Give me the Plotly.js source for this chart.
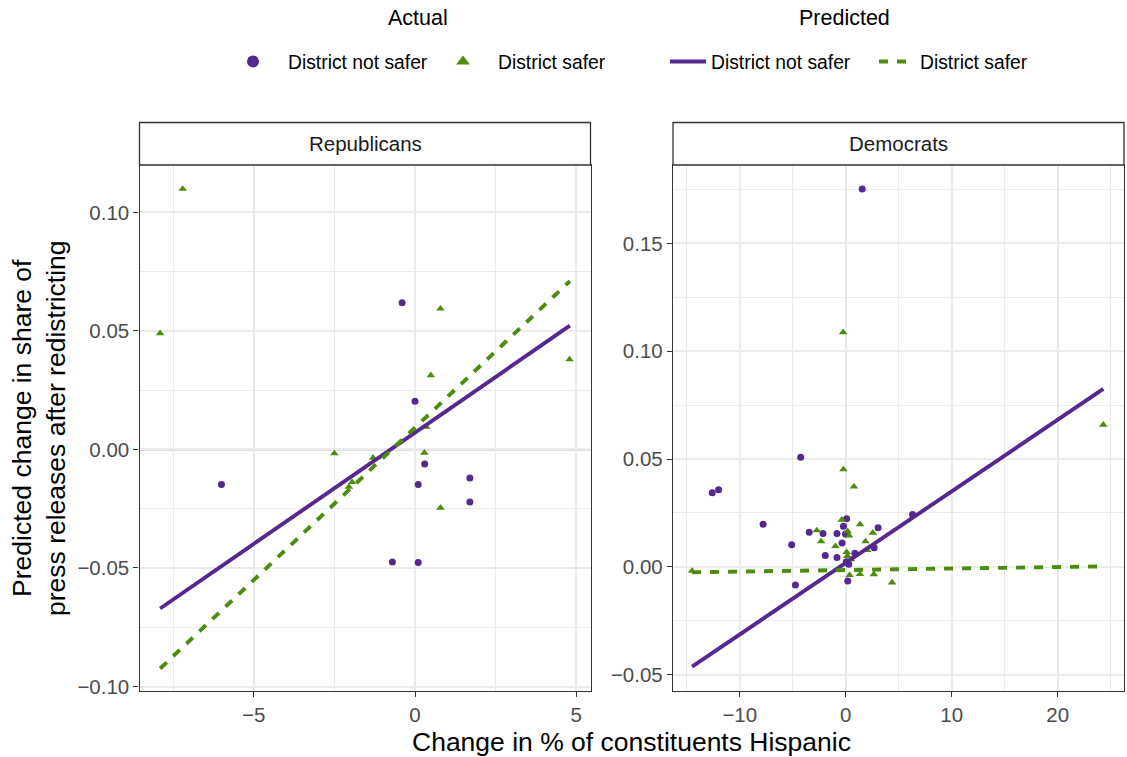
<!DOCTYPE html>
<html><head><meta charset="utf-8">
<script src="https://cdn.plot.ly/plotly-3.0.1.min.js"></script>
<style>html,body{margin:0;padding:0;background:#fff}</style>
</head><body>
<div id="chart" style="width:1127px;height:757px"></div>
<script>
// ---------- data ----------
const panels = ["Republicans", "Democrats"];
const groups = ["District not safer", "District safer"];

// Republicans, actual
const repNotSaferX = [-6.0, -0.4, 0.0, 0.3, 0.1, 1.7, 1.7, -0.7, 0.1];
const repNotSaferY = [-0.0148, 0.0619, 0.0203, -0.0061, -0.0148, -0.0120, -0.0222, -0.0475, -0.0477];
const repSaferX = [-7.2, -7.9, 0.79, 4.79, 0.49, -2.5, 0.29, 0.79, -1.95, -2.05, -1.3, 0.35];
const repSaferY = [0.1099, 0.0490, 0.0594, 0.0380, 0.0313, -0.0017, -0.0014, -0.0246, -0.0138, -0.0158, -0.0035, 0.0095];
// Republicans, predicted (line end points)
const repPredX = [-7.9, 4.8];
const repPredNotSafer = [-0.0671, 0.0522];
const repPredSafer = [-0.0924, 0.0710];

// Democrats, actual
const demNotSaferX = [1.55, -4.25, -12.6, -12.0, -7.8, -5.1, -4.75, -3.45, -2.15, -1.93, -0.83, -0.83, -0.35, -0.22, 0.08, -0.02, 0.05, 0.28, 0.19, 0.86, 2.68, 3.05, 6.3];
const demNotSaferY = [0.1753, 0.0508, 0.0344, 0.0357, 0.0197, 0.0102, -0.0084, 0.0160, 0.0155, 0.0052, 0.0155, 0.0043, 0.0110, 0.0188, 0.0223, 0.0152, 0.0024, 0.0012, -0.0066, 0.0063, 0.0088, 0.0181, 0.0243];
const demSaferX = [-0.25, 24.3, -0.22, 0.77, -0.37, 1.35, -2.73, 0.18, 0.31, 2.55, -2.32, 1.86, -0.97, 0.08, 0.16, 0.5, 2.03, 0.36, 1.34, 2.65, 4.37, -14.5];
const demSaferY = [0.1088, 0.0659, 0.0452, 0.0372, 0.0218, 0.0197, 0.0169, 0.0165, 0.0145, 0.0158, 0.0118, 0.0118, 0.0096, 0.0068, 0.0050, 0.0035, 0.0078, -0.0039, -0.0034, -0.0035, -0.0073, -0.0019];
// Democrats, predicted (line end points)
const demPredX = [-14.5, 24.3];
const demPredNotSafer = [-0.0463, 0.0825];
const demPredSafer = [-0.0025, 0.0002];

// ---------- style ----------
const W = 1127, H = 757;
const FONT = "Liberation Sans, Arial, Helvetica, sans-serif";
const PURPLE = "#55288F", GREEN = "#4C8C0B";
const SMALL = 20.5, BIG = 26.5, LEG = 19.3, LEGT = 21.5;
const TOP = 165, BOT = 691, PH = BOT - TOP;
const X1 = [139.5, 590.5], X2 = [673, 1124];
const px = p => p / W;
const py = p => (BOT - p) / PH;

function pts(x, y, g, xa, ya, show) {
  const safer = g === 1;
  return {type: "scatter", mode: "markers", x: x, y: y, xaxis: xa, yaxis: ya,
    name: groups[g], legend: "legend", legendgroup: "a" + g, showlegend: show,
    marker: {symbol: safer ? "triangle-up" : "circle", size: safer ? 7.5 : 7,
      color: safer ? GREEN : PURPLE, line: {width: 0}}, hoverinfo: "x+y"};
}
function line(x, y, g, xa, ya, show) {
  const safer = g === 1;
  return {type: "scatter", mode: "lines", x: x, y: y, xaxis: xa, yaxis: ya,
    name: groups[g], legend: "legend2", legendgroup: "p" + g, showlegend: show,
    line: {color: safer ? GREEN : PURPLE, width: 3.9, dash: safer ? "9px,9px" : "solid"},
    hoverinfo: "x+y"};
}

const traces = [
  pts(repNotSaferX, repNotSaferY, 0, "x", "y", true),
  pts(repSaferX, repSaferY, 1, "x", "y", true),
  pts(demNotSaferX, demNotSaferY, 0, "x2", "y2", false),
  pts(demSaferX, demSaferY, 1, "x2", "y2", false),
  line(repPredX, repPredNotSafer, 0, "x", "y", true),
  line(repPredX, repPredSafer, 1, "x", "y", true),
  line(demPredX, demPredNotSafer, 0, "x2", "y2", false),
  line(demPredX, demPredSafer, 1, "x2", "y2", false)
];

function ax(extra) {
  return Object.assign({
    showline: true, mirror: true, linecolor: "#333333", linewidth: 1.3,
    ticks: "outside", ticklen: 5, tickwidth: 1.3, tickcolor: "#333333",
    showgrid: true, gridcolor: "#EBEBEB", gridwidth: 1.6, zeroline: false,
    tickfont: {family: FONT, size: SMALL, color: "#4D4D4D"}, fixedrange: true
  }, extra);
}
const minor = d => ({dtick: d, showgrid: true, gridcolor: "#EBEBEB", gridwidth: 0.8, ticks: ""});

function strip(xr) {
  return {type: "rect", xref: "paper", yref: "paper", x0: px(xr[0]), x1: px(xr[1]),
    y0: 1, y1: py(122.5), line: {color: "#333333", width: 1.3}, fillcolor: "#FFFFFF", layer: "above"};
}
function hline(xa, ya) {
  return {type: "line", xref: xa + " domain", yref: ya, x0: 0, x1: 1, y0: 0, y1: 0,
    line: {color: "#7F7F7F", width: 1.8}, layer: "below"};
}
const txt = (t, x, y, size, extra) => Object.assign({text: t, x: x, y: y, xref: "paper", yref: "paper",
  showarrow: false, xanchor: "center", yanchor: "middle",
  font: {family: FONT, size: size, color: "#000000"}}, extra || {});

const layout = {
  width: W, height: H, margin: {l: 0, r: 0, t: TOP, b: H - BOT, pad: 0},
  paper_bgcolor: "#FFFFFF", plot_bgcolor: "#FFFFFF", hovermode: "closest",
  font: {family: FONT},
  xaxis: ax({domain: [px(X1[0]), px(X1[1])], anchor: "y", range: [-8.54, 5.44], dtick: 5, tick0: 0, minor: minor(2.5)}),
  yaxis: ax({domain: [0, 1], anchor: "x", range: [-0.1019, 0.12], dtick: 0.05, tick0: 0, tickformat: ".2f", minor: minor(0.025)}),
  xaxis2: ax({domain: [px(X2[0]), px(X2[1])], anchor: "y2", range: [-16.3, 26.25], dtick: 10, tick0: 0, minor: minor(5)}),
  yaxis2: ax({domain: [0, 1], anchor: "x2", range: [-0.0576, 0.1864], dtick: 0.05, tick0: 0, tickformat: ".2f", minor: minor(0.025)}),
  legend: {orientation: "h", x: px(218), xanchor: "left", y: py(62), yanchor: "middle", itemwidth: 60, entrywidth: 135,
    font: {family: FONT, size: LEG, color: "#000000"}, itemsizing: "constant", bgcolor: "rgba(0,0,0,0)", traceorder: "normal"},
  legend2: {orientation: "h", x: px(665), xanchor: "left", y: py(62), yanchor: "middle", itemwidth: 36, entrywidth: 158,
    font: {family: FONT, size: LEG, color: "#000000"}, bgcolor: "rgba(0,0,0,0)", traceorder: "normal"},
  shapes: [strip(X1), strip(X2), hline("x", "y"), hline("x2", "y2")],
  annotations: [
    txt(panels[0], px((X1[0] + X1[1]) / 2), py(143.75), SMALL, {font: {family: FONT, size: SMALL, color: "#1A1A1A"}}),
    txt(panels[1], px((X2[0] + X2[1]) / 2), py(143.75), SMALL, {font: {family: FONT, size: SMALL, color: "#1A1A1A"}}),
    txt("Actual", px(418), py(18), LEGT),
    txt("Predicted", px(844), py(18), LEGT),
    txt("Change in % of constituents Hispanic", px((X1[0] + X2[1]) / 2), py(742), BIG),
    txt("Predicted change in share of<br>press releases after redistricting", px(39), 0.5, BIG, {textangle: -90})
  ]
};

Plotly.newPlot("chart", traces, layout, {displayModeBar: false, staticPlot: false});
</script>
</body></html>
